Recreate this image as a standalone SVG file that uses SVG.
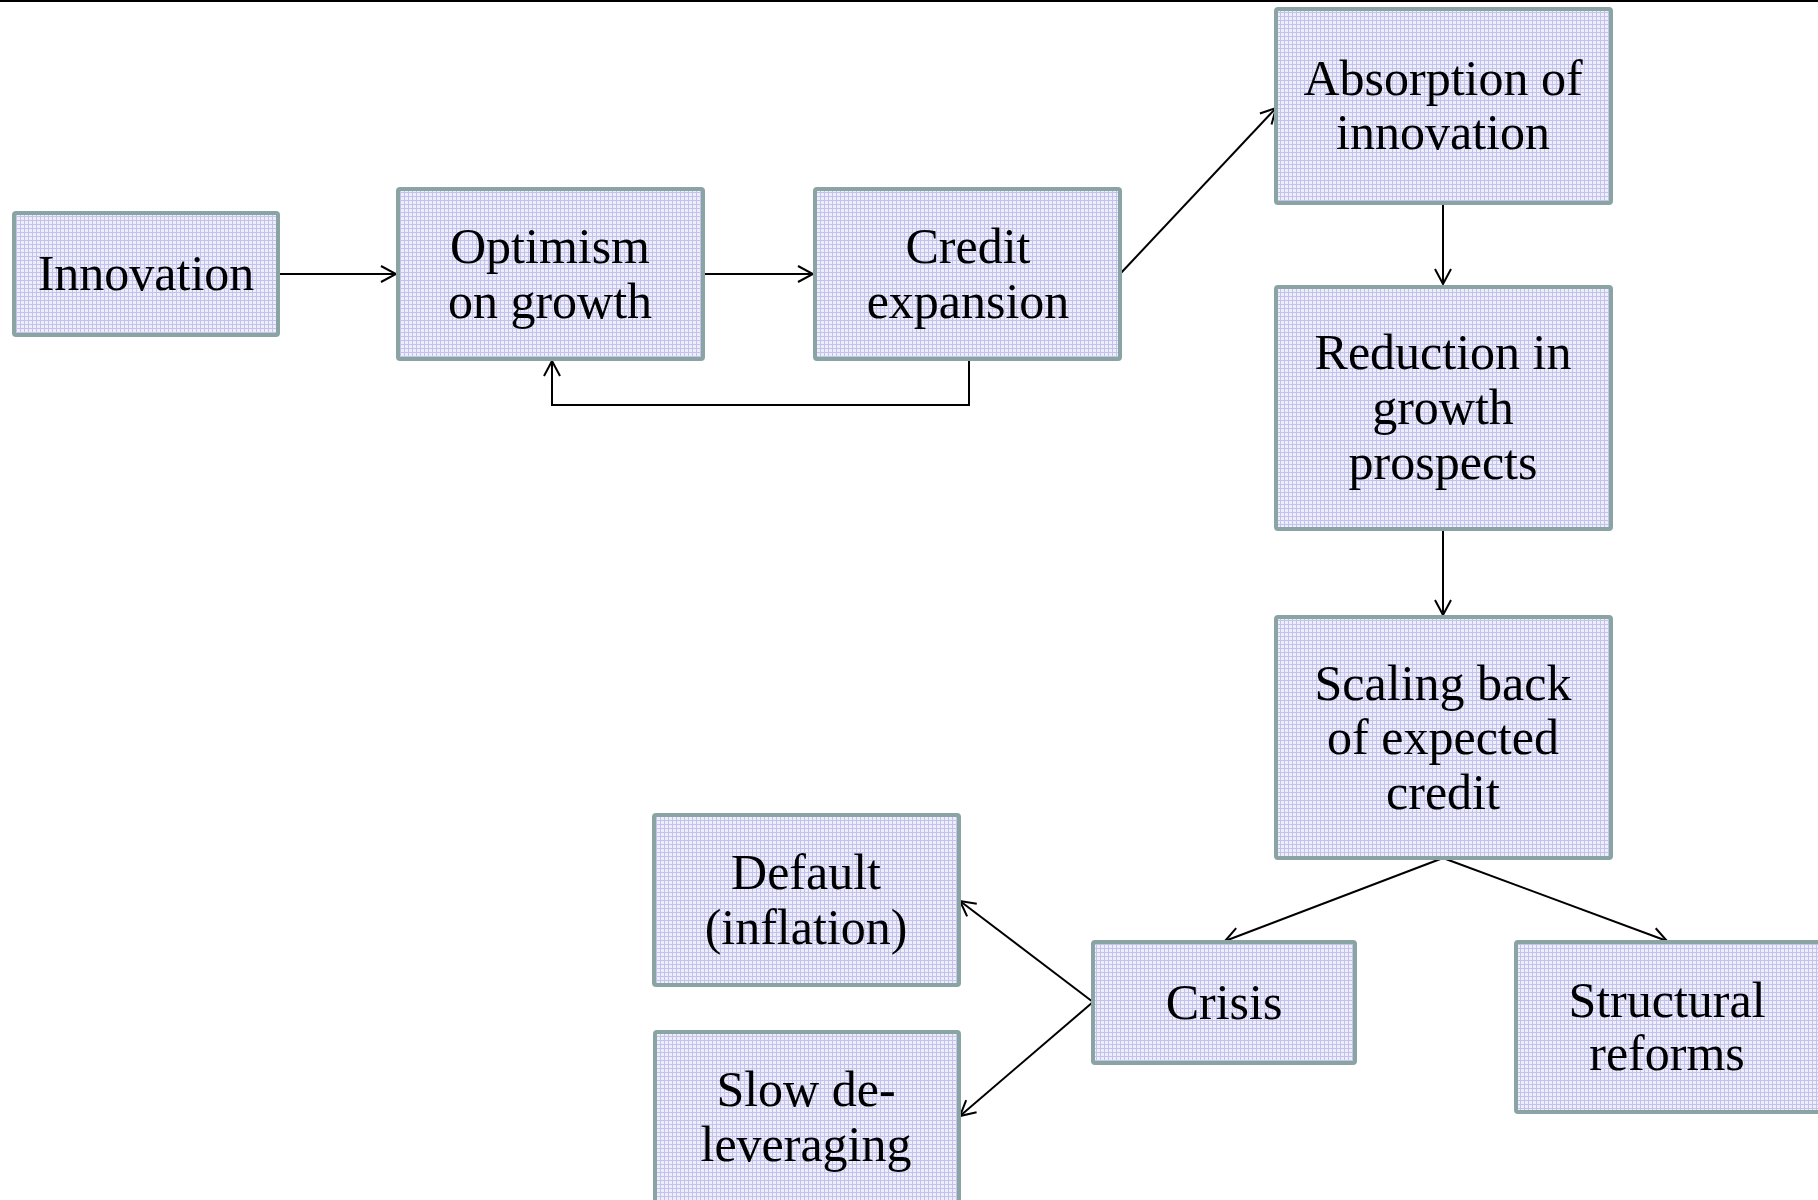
<svg xmlns="http://www.w3.org/2000/svg" width="1818" height="1200" viewBox="0 0 1818 1200">
<style>
.box{fill:url(#grid);stroke:#8AA4A4;stroke-width:4}
.t{font-family:"Liberation Serif","DejaVu Serif",serif;font-size:50px;fill:#000;text-anchor:middle}
.c{fill:none;stroke:#000;stroke-width:2}
</style>
<defs>
<pattern id="grid" patternUnits="userSpaceOnUse" width="4" height="4">
<rect width="4" height="4" fill="#EEEEFB"/>
<path d="M0,0.5H4M0.5,0V4" stroke="#C2C2EC" stroke-width="1"/>
</pattern>
<marker id="ah" markerUnits="userSpaceOnUse" markerWidth="18" markerHeight="20" refX="16" refY="9" orient="auto" viewBox="0 0 18 18">
<path d="M1,1 L16,9 L1,17" fill="none" stroke="#000" stroke-width="2"/>
</marker>
</defs>
<rect width="1818" height="1200" fill="#fff"/>
<line x1="0" y1="1" x2="1818" y2="1" stroke="#000" stroke-width="2"/>
<g id="connectors">
<line class="c" x1="278" y1="274" x2="396" y2="274" marker-end="url(#ah)"/>
<line class="c" x1="703" y1="274" x2="813" y2="274" marker-end="url(#ah)"/>
<line class="c" x1="1120" y1="274" x2="1276" y2="108" marker-end="url(#ah)"/>
<polyline class="c" points="969,359 969,405 552,405 552,361" marker-end="url(#ah)"/>
<line class="c" x1="1443" y1="203" x2="1443" y2="284" marker-end="url(#ah)"/>
<line class="c" x1="1443" y1="529" x2="1443" y2="615" marker-end="url(#ah)"/>
<line class="c" x1="1443" y1="858" x2="1225" y2="941" marker-end="url(#ah)"/>
<line class="c" x1="1443" y1="858" x2="1667" y2="941" marker-end="url(#ah)"/>
<line class="c" x1="1093" y1="1002" x2="960" y2="901" marker-end="url(#ah)"/>
<line class="c" x1="1093" y1="1002" x2="960" y2="1116" marker-end="url(#ah)"/>
</g>
<g id="innovation"><rect class="box" x="14" y="213" width="264" height="122" rx="2"/><text class="t" x="146" y="290">Innovation</text></g>
<g id="optimism"><rect class="box" x="398" y="189" width="305" height="170" rx="2"/><text class="t" x="550" y="263">Optimism</text><text class="t" x="550" y="318">on growth</text></g>
<g id="credit"><rect class="box" x="815" y="189" width="305" height="170" rx="2"/><text class="t" x="968" y="263">Credit</text><text class="t" x="968" y="318">expansion</text></g>
<g id="absorption"><rect class="box" x="1276" y="9" width="335" height="194" rx="2"/><text class="t" x="1443" y="95">Absorption of</text><text class="t" x="1443" y="149">innovation</text></g>
<g id="reduction"><rect class="box" x="1276" y="287" width="335" height="242" rx="2"/><text class="t" x="1443" y="369">Reduction in</text><text class="t" x="1443" y="424">growth</text><text class="t" x="1443" y="479">prospects</text></g>
<g id="scaling"><rect class="box" x="1276" y="617" width="335" height="241" rx="2"/><text class="t" x="1443" y="700">Scaling back</text><text class="t" x="1443" y="754">of expected</text><text class="t" x="1443" y="809">credit</text></g>
<g id="default"><rect class="box" x="654" y="815" width="305" height="170" rx="2"/><text class="t" x="806" y="889">Default</text><text class="t" x="806" y="944">(inflation)</text></g>
<g id="slow"><rect class="box" x="655" y="1032" width="304" height="180" rx="2"/><text class="t" x="806" y="1106">Slow de-</text><text class="t" x="806" y="1161">leveraging</text></g>
<g id="crisis"><rect class="box" x="1093" y="942" width="262" height="121" rx="2"/><text class="t" x="1224" y="1019">Crisis</text></g>
<g id="structural"><rect class="box" x="1516" y="942" width="320" height="170" rx="2"/><text class="t" x="1667" y="1017">Structural</text><text class="t" x="1667" y="1070">reforms</text></g>
</svg>
